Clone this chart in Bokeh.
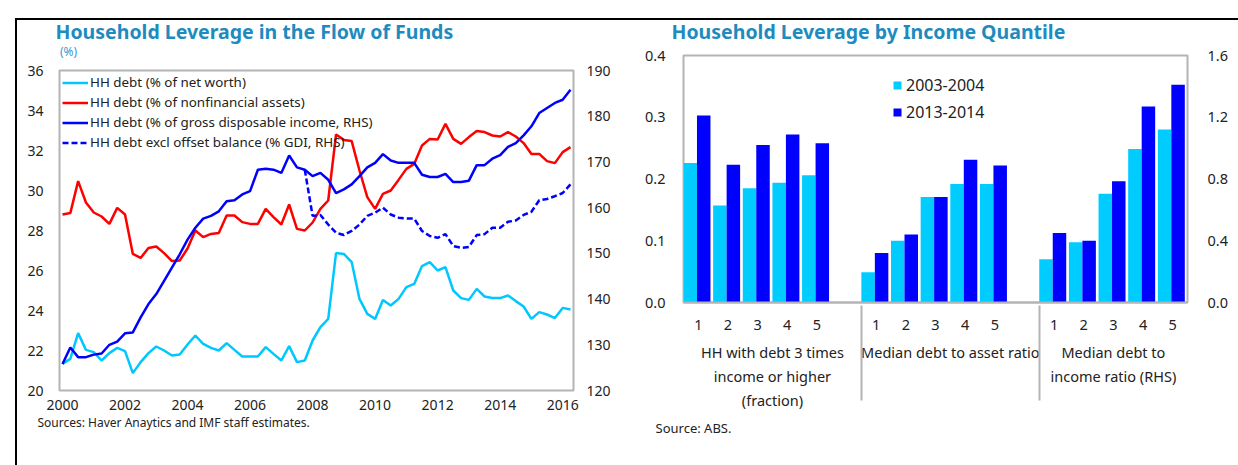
from bokeh.plotting import figure
from bokeh.models import (Range1d, LinearAxis, FixedTicker, Legend, LegendItem, Title,
                          FactorRange, ColumnDataSource, NumeralTickFormatter, Div)
from bokeh.transform import dodge
from bokeh.embed import file_html
from bokeh.resources import INLINE

FONT = "Noto Sans"
TITLE_COLOR = "#1E8BBF"
CYAN = "#00C8FF"
RED = "#FF0000"
BLUE = "#0000FF"
FRAME = "#B4B4B4"
TXT = "#222222"

# ---------------- data: left chart (quarterly, 2000Q1 - 2016Q2) ----------------
start_year = 2000
n_quarters = 66
net_worth = [21.33, 21.58, 22.87, 22.03, 21.92, 21.5, 21.87, 22.13, 21.97, 20.87, 21.42, 21.87,
             22.2, 22.0, 21.75, 21.8, 22.3, 22.75, 22.33, 22.13, 22.0, 22.37, 22.03, 21.7,
             21.7, 21.7, 22.17, 21.83, 21.5, 22.22, 21.42, 21.5, 22.5, 23.17, 23.58, 26.87,
             26.83, 26.42, 24.58, 23.83, 23.58, 24.53, 24.25, 24.58, 25.17, 25.33, 26.22, 26.42,
             26.0, 26.17, 25.0, 24.62, 24.53, 25.08, 24.7, 24.63, 24.62, 24.75, 24.47, 24.2,
             23.58, 23.92, 23.8, 23.62, 24.13, 24.05]
nonfin_assets = [28.8, 28.87, 30.47, 29.4, 28.9, 28.7, 28.33, 29.13, 28.8, 26.83, 26.63, 27.13,
                 27.2, 26.87, 26.47, 26.5, 27.1, 28.0, 27.67, 27.83, 27.87, 28.75, 28.75, 28.42,
                 28.33, 28.33, 29.08, 28.67, 28.3, 29.3, 28.08, 28.0, 28.4, 29.08, 29.5, 32.8,
                 32.53, 32.47, 31.0, 29.67, 29.08, 29.83, 30.0, 30.53, 31.08, 31.33, 32.25, 32.58,
                 32.55, 33.33, 32.58, 32.33, 32.67, 32.97, 32.92, 32.75, 32.7, 32.92, 32.7, 32.37,
                 31.83, 31.83, 31.47, 31.37, 31.92, 32.17]
gdi = [125.8, 129.4, 127.3, 127.3, 127.85, 128.1, 130.0, 130.7, 132.5, 132.7, 136.0, 138.9,
       141.1, 144.0, 146.9, 149.8, 153.0, 155.6, 157.6, 158.2, 159.2, 161.4, 161.6, 162.9,
       163.6, 168.3, 168.5, 168.3, 167.6, 171.4, 168.8, 168.3, 166.9, 167.6, 166.1, 163.2,
       164.0, 165.1, 166.9, 168.8, 169.8, 171.7, 170.3, 169.8, 169.8, 169.8, 167.2, 166.7,
       166.7, 167.4, 165.6, 165.6, 165.9, 169.3, 169.3, 170.7, 171.5, 173.3, 174.1, 175.8,
       177.8, 180.7, 181.8, 182.9, 183.6, 185.8]
excl_offset_start = 31  # series begins in 2007Q4
excl_offset = [168.3, 158.2, 158.4, 156.3, 154.5, 154.0, 154.9, 156.3, 158.2, 158.9, 160.0,
               158.5, 157.8, 157.6, 157.6, 154.9, 153.8, 153.4, 154.2, 151.6, 151.2, 151.4,
               154.0, 154.2, 155.6, 155.6, 156.9, 157.2, 158.4, 159.1, 161.6, 161.9, 162.5,
               163.2, 165.1]
year_ticks = [2000, 2002, 2004, 2006, 2008, 2010, 2012, 2014, 2016]
left_ticks = [20, 22, 24, 26, 28, 30, 32, 34, 36]
right_ticks = [120, 130, 140, 150, 160, 170, 180, 190]

# ---------------- data: right chart ----------------
groups = ["HH with debt 3 times\nincome or higher\n(fraction)",
          "Median debt to asset ratio",
          "Median debt to\nincome ratio (RHS)"]
quantiles = ["1", "2", "3", "4", "5"]
y2003 = {groups[0]: [0.226, 0.157, 0.185, 0.194, 0.206],
         groups[1]: [0.049, 0.100, 0.171, 0.192, 0.192],
         groups[2]: [0.28, 0.39, 0.705, 0.995, 1.12]}
y2013 = {groups[0]: [0.303, 0.223, 0.255, 0.272, 0.258],
         groups[1]: [0.080, 0.110, 0.171, 0.231, 0.222],
         groups[2]: [0.45, 0.40, 0.785, 1.27, 1.41]}
bar_ticks_l = [0.0, 0.1, 0.2, 0.3, 0.4]
bar_ticks_r = [0.0, 0.4, 0.8, 1.2, 1.6]


def style_axis(ax, size="14px"):
    ax.axis_line_color = None
    ax.major_tick_line_color = None
    ax.minor_tick_line_color = None
    ax.major_label_text_font = FONT
    ax.major_label_text_font_size = size
    ax.major_label_text_color = TXT


# =============== left figure ===============
years = [start_year + i / 4 for i in range(n_quarters)]
p1 = figure(width=608, height=475, x_range=Range1d(1999.904, 2016.346), y_range=Range1d(20, 36),
            output_backend="svg", toolbar_location=None,
            min_border_left=47, min_border_right=47, min_border_top=80, min_border_bottom=75,
            styles={"position": "absolute", "left": "12px", "top": "-10px"})
p1.extra_y_ranges = {"rhs": Range1d(120, 190)}
p1.xgrid.visible = False
p1.ygrid.visible = False
p1.outline_line_color = FRAME
p1.outline_line_width = 2

src = ColumnDataSource(dict(x=years, nw=net_worth, na=nonfin_assets, gdi=gdi))
src_d = ColumnDataSource(dict(x=years[excl_offset_start:], v=excl_offset))
r_nw = p1.line("x", "nw", source=src, color=CYAN, line_width=2.5)
r_na = p1.line("x", "na", source=src, color=RED, line_width=2.5)
r_gdi = p1.line("x", "gdi", source=src, color=BLUE, line_width=2.5, y_range_name="rhs")
r_ex = p1.line("x", "v", source=src_d, color=BLUE, line_width=2.5, line_dash="6 3",
               y_range_name="rhs")

p1.xaxis.ticker = FixedTicker(ticks=year_ticks)
p1.yaxis.ticker = FixedTicker(ticks=left_ticks)
style_axis(p1.xaxis[0])
style_axis(p1.yaxis[0])
p1.xaxis.major_label_standoff = 3
p1.yaxis.major_label_standoff = 10
ax_r = LinearAxis(y_range_name="rhs", ticker=FixedTicker(ticks=right_ticks))
style_axis(ax_r)
ax_r.major_label_standoff = 7
p1.add_layout(ax_r, "right")

leg1 = Legend(items=[LegendItem(label="HH debt (% of net worth)", renderers=[r_nw]),
                     LegendItem(label="HH debt (% of nonfinancial assets)", renderers=[r_na]),
                     LegendItem(label="HH debt (% of gross disposable income, RHS)", renderers=[r_gdi]),
                     LegendItem(label="HH debt excl offset balance (% GDI, RHS)", renderers=[r_ex])],
              location="top_left", margin=3, padding=8, spacing=2, glyph_width=26, glyph_height=17,
              label_height=17, label_standoff=2, border_line_color=None, background_fill_alpha=0,
              label_text_font=FONT, label_text_font_size="13.4px", label_text_color=TXT)
p1.add_layout(leg1)

p1.add_layout(Title(text="Household Leverage in the Flow of Funds", text_font=FONT,
                    text_font_size="19.5px", text_font_style="bold", text_color=TITLE_COLOR,
                    align="left", offset=-4, standoff=51), "above")
p1.add_layout(Title(text="Sources: Haver Anaytics and IMF staff estimates.", text_font=FONT,
                    text_font_size="12px", text_font_style="normal", text_color=TXT,
                    align="left", offset=-22, standoff=-2), "below")

# unit note above the left chart's frame
unit_note = Div(text="(%)", styles={"position": "absolute", "left": "55px", "top": "39px",
                                    "font-family": FONT, "font-size": "12px",
                                    "color": "#3A9BD0", "line-height": "16px"})

# =============== right figure ===============
factors = []
for gi, g in enumerate(groups):
    factors += [(g, q) for q in quantiles]
    if gi < 2:
        factors.append((g, " "))

p2 = figure(width=610, height=461, x_range=FactorRange(*factors, group_padding=0, range_padding=0),
            y_range=Range1d(0, 0.4), output_backend="svg", toolbar_location=None,
            min_border_left=63, min_border_right=34, min_border_top=51, min_border_bottom=163,
            styles={"position": "absolute", "left": "620px", "top": "4px"})
p2.extra_y_ranges = {"rhs": Range1d(0, 1.6)}
p2.xgrid.visible = False
p2.ygrid.visible = False
p2.outline_line_color = FRAME
p2.outline_line_width = 2


def bar_source(glist):
    xs, a, b = [], [], []
    for g in glist:
        for q, v1, v2 in zip(quantiles, y2003[g], y2013[g]):
            xs.append((g, q))
            a.append(v1)
            b.append(v2)
    return ColumnDataSource(dict(x=xs, a=a, b=b))


s_l = bar_source(groups[:2])
s_r = bar_source(groups[2:])
LIGHT = "#00CCFF"
DARK = "#0000FF"
bw = 0.455
b1 = p2.vbar(x=dodge("x", -0.273, range=p2.x_range), top="a", width=bw, source=s_l,
             fill_color=LIGHT, line_color=None)
b2 = p2.vbar(x=dodge("x", 0.182, range=p2.x_range), top="b", width=bw, source=s_l,
             fill_color=DARK, line_color=None)
p2.vbar(x=dodge("x", -0.273, range=p2.x_range), top="a", width=bw, source=s_r,
        fill_color=LIGHT, line_color=None, y_range_name="rhs")
p2.vbar(x=dodge("x", 0.182, range=p2.x_range), top="b", width=bw, source=s_r,
        fill_color=DARK, line_color=None, y_range_name="rhs")

p2.yaxis.ticker = FixedTicker(ticks=bar_ticks_l)
p2.yaxis.formatter = NumeralTickFormatter(format="0.0")
style_axis(p2.yaxis[0], "14.5px")
p2.yaxis.major_label_standoff = 12
ax_r2 = LinearAxis(y_range_name="rhs", ticker=FixedTicker(ticks=bar_ticks_r),
                   formatter=NumeralTickFormatter(format="0.0"))
style_axis(ax_r2, "14.5px")
ax_r2.major_label_standoff = 14
p2.add_layout(ax_r2, "right")

xa = p2.xaxis[0]
xa.axis_line_color = FRAME
xa.axis_line_width = 2
xa.major_tick_line_color = None
xa.minor_tick_line_color = None
xa.major_label_text_font = FONT
xa.major_label_text_font_size = "14.5px"
xa.major_label_text_color = TXT
xa.major_label_standoff = 5
xa.group_text_font = FONT
xa.group_text_font_size = "14.5px"
xa.group_text_font_style = "normal"
xa.group_text_color = TXT
xa.separator_line_color = FRAME
xa.separator_line_width = 2

leg2 = Legend(items=[LegendItem(label="2003-2004", renderers=[b1]),
                     LegendItem(label="2013-2014", renderers=[b2])],
              location=(209, 179), margin=0, padding=2, spacing=5, glyph_width=10, glyph_height=10,
              label_height=22, label_standoff=4, border_line_color=None, background_fill_alpha=0,
              label_text_font=FONT, label_text_font_size="16px", label_text_color=TXT)
p2.add_layout(leg2)

p2.add_layout(Title(text="Household Leverage by Income Quantile", text_font=FONT,
                    text_font_size="19.5px", text_font_style="bold", text_color=TITLE_COLOR,
                    align="left", offset=-12, standoff=22), "above")
p2.add_layout(Title(text="Source: ABS.", text_font=FONT, text_font_size="13px",
                    text_font_style="normal", text_color=TXT,
                    align="left", offset=-28, standoff=9), "below")

frame_lines = Div(text="", styles={"position": "absolute", "left": "10px", "top": "13px",
                                   "width": "1228px", "height": "452px",
                                   "border-top": "2px solid black",
                                   "border-left": "2px solid black",
                                   "box-sizing": "border-box", "pointer-events": "none"})

open("out.html", "w").write(file_html([p1, p2, unit_note, frame_lines], INLINE))
